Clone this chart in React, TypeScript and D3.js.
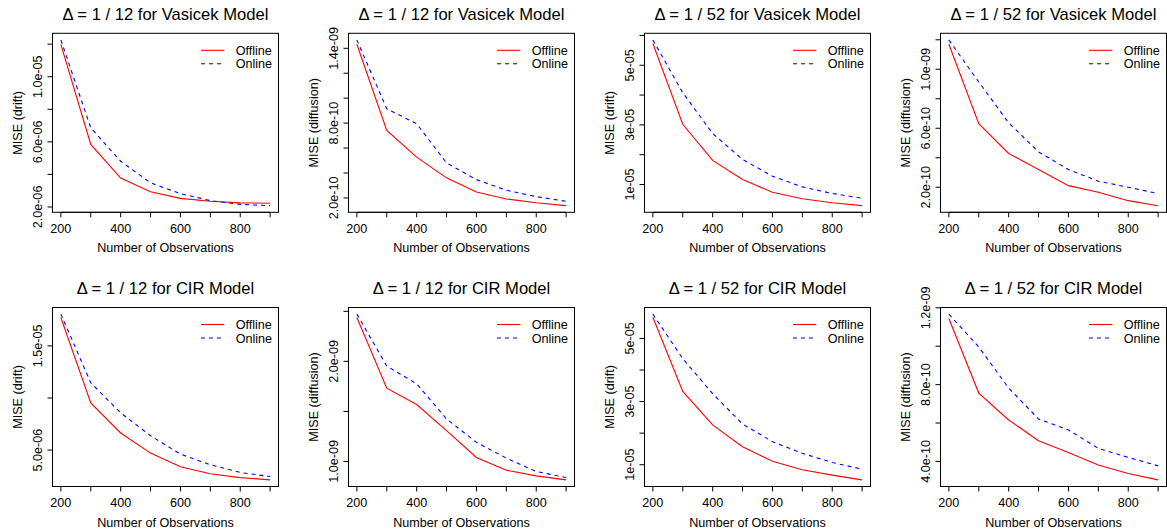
import React from "react";
import * as d3 from "d3";

// ---------- data ----------
const observations = [200, 300, 400, 500, 600, 700, 800, 900];
const xTicks = [200, 300, 400, 500, 600, 700, 800, 900];
const xTickLabels = ["200", "", "400", "", "600", "", "800", ""];

const titles = [
  "Δ = 1 / 12 for Vasicek Model",
  "Δ = 1 / 12 for Vasicek Model",
  "Δ = 1 / 52 for Vasicek Model",
  "Δ = 1 / 52 for Vasicek Model",
  "Δ = 1 / 12 for CIR Model",
  "Δ = 1 / 12 for CIR Model",
  "Δ = 1 / 52 for CIR Model",
  "Δ = 1 / 52 for CIR Model",
];
const yTitles = [
  "MISE (drift)", "MISE (diffusion)", "MISE (drift)", "MISE (diffusion)",
  "MISE (drift)", "MISE (diffusion)", "MISE (drift)", "MISE (diffusion)",
];
const legendLabels = ["Offline", "Online"];

// Vasicek, Δ = 1/12
const vas12DriftOffline = [11.99e-6, 5.84e-6, 3.78e-6, 2.94e-6, 2.53e-6, 2.35e-6, 2.25e-6, 2.23e-6];
const vas12DriftOnline = [12.26e-6, 6.86e-6, 4.81e-6, 3.48e-6, 2.82e-6, 2.39e-6, 2.16e-6, 2.08e-6];
const vas12DiffOffline = [14.32e-10, 7.41e-10, 5.27e-10, 3.61e-10, 2.48e-10, 1.92e-10, 1.62e-10, 1.38e-10];
const vas12DiffOnline = [14.67e-10, 9.15e-10, 7.95e-10, 4.81e-10, 3.47e-10, 2.62e-10, 2.11e-10, 1.73e-10];
// Vasicek, Δ = 1/52
const vas52DriftOffline = [5.73e-5, 3.02e-5, 1.81e-5, 1.17e-5, 0.74e-5, 0.52e-5, 0.39e-5, 0.29e-5];
const vas52DriftOnline = [5.85e-5, 4.08e-5, 2.71e-5, 1.84e-5, 1.28e-5, 0.92e-5, 0.7e-5, 0.54e-5];
const vas52DiffOffline = [11.7e-10, 6.31e-10, 4.29e-10, 3.2e-10, 2.11e-10, 1.66e-10, 1.09e-10, 0.75e-10];
const vas52DiffOnline = [11.99e-10, 9.14e-10, 6.37e-10, 4.4e-10, 3.2e-10, 2.41e-10, 2.0e-10, 1.57e-10];
// CIR, Δ = 1/12
const cir12DriftOffline = [17.73e-6, 9.53e-6, 6.64e-6, 4.71e-6, 3.39e-6, 2.72e-6, 2.36e-6, 2.14e-6];
const cir12DriftOnline = [18.05e-6, 11.46e-6, 8.57e-6, 6.38e-6, 4.61e-6, 3.59e-6, 2.85e-6, 2.46e-6];
const cir12DiffOffline = [24.38e-10, 17.32e-10, 15.69e-10, 13.08e-10, 10.4e-10, 9.13e-10, 8.56e-10, 8.16e-10];
const cir12DiffOnline = [24.72e-10, 19.53e-10, 17.76e-10, 14.25e-10, 11.91e-10, 10.33e-10, 9.0e-10, 8.39e-10];
// CIR, Δ = 1/52
const cir52DriftOffline = [5.67e-5, 3.32e-5, 2.26e-5, 1.57e-5, 1.11e-5, 0.84e-5, 0.67e-5, 0.52e-5];
const cir52DriftOnline = [5.77e-5, 4.36e-5, 3.25e-5, 2.29e-5, 1.73e-5, 1.36e-5, 1.07e-5, 0.86e-5];
const cir52DiffOffline = [11.44e-10, 7.56e-10, 6.16e-10, 5.08e-10, 4.47e-10, 3.81e-10, 3.37e-10, 3.04e-10];
const cir52DiffOnline = [11.67e-10, 9.96e-10, 7.82e-10, 6.21e-10, 5.64e-10, 4.68e-10, 4.21e-10, 3.77e-10];

// y-axis ticks and labels
const yTicks1 = [2e-6, 4e-6, 6e-6, 8e-6, 1e-5, 1.2e-5];
const yLabels1 = ["2.0e-06", "", "6.0e-06", "", "1.0e-05", ""];
const yTicks2 = [2e-10, 4e-10, 6e-10, 8e-10, 1e-9, 1.2e-9, 1.4e-9];
const yLabels2 = ["2.0e-10", "", "", "8.0e-10", "", "", "1.4e-09"];
const yTicks3 = [1e-5, 2e-5, 3e-5, 4e-5, 5e-5, 6e-5];
const yLabels3 = ["1e-05", "", "3e-05", "", "5e-05", ""];
const yTicks4 = [2e-10, 4e-10, 6e-10, 8e-10, 1e-9, 1.2e-9];
const yLabels4 = ["2.0e-10", "", "6.0e-10", "", "1.0e-09", ""];
const yTicks5 = [5e-6, 1e-5, 1.5e-5];
const yLabels5 = ["5.0e-06", "", "1.5e-05"];
const yTicks6 = [1e-9, 1.5e-9, 2e-9, 2.5e-9];
const yLabels6 = ["1.0e-09", "", "2.0e-09", ""];
const yTicks7 = [1e-5, 2e-5, 3e-5, 4e-5, 5e-5];
const yLabels7 = ["1e-05", "", "3e-05", "", "5e-05"];
const yTicks8 = [4e-10, 6e-10, 8e-10, 1e-9, 1.2e-9];
const yLabels8 = ["4.0e-10", "", "8.0e-10", "", "1.2e-09"];

const offlineSeries = [vas12DriftOffline, vas12DiffOffline, vas52DriftOffline, vas52DiffOffline,
  cir12DriftOffline, cir12DiffOffline, cir52DriftOffline, cir52DiffOffline];
const onlineSeries = [vas12DriftOnline, vas12DiffOnline, vas52DriftOnline, vas52DiffOnline,
  cir12DriftOnline, cir12DiffOnline, cir52DriftOnline, cir52DiffOnline];
const yTickSets = [yTicks1, yTicks2, yTicks3, yTicks4, yTicks5, yTicks6, yTicks7, yTicks8];
const yLabelSets = [yLabels1, yLabels2, yLabels3, yLabels4, yLabels5, yLabels6, yLabels7, yLabels8];

// ---------- layout ----------
const W = 1167;
const H = 532;
const FONT = "'Liberation Sans', Arial, Helvetica, sans-serif";
const BOX_W = 226;
const BOX_H = 179;
const COL_STEP = 296;
const ROW_STEP = 274.2;
const LEFT0 = 52.5;
const TOP0 = 33.3;
const AXIS_FS = 12.6;
const TITLE_FS = 16.6;
const TICK = 5;

function rExtend(lo: number, hi: number): [number, number] {
  const d = (hi - lo) * 0.04;
  return [lo - d, hi + d];
}

function Panel({ idx }: { idx: number }) {
  const col = idx % 4;
  const row = Math.floor(idx / 4);
  const left = LEFT0 + col * COL_STEP;
  const top = TOP0 + row * ROW_STEP;
  const right = left + BOX_W;
  const bottom = top + BOX_H;

  const off = offlineSeries[idx];
  const on = onlineSeries[idx];
  const all = off.concat(on);

  const x = d3.scaleLinear().domain(rExtend(d3.min(observations)!, d3.max(observations)!)).range([left, right]);
  const y = d3.scaleLinear().domain(rExtend(d3.min(all)!, d3.max(all)!)).range([bottom, top]);

  const line = d3
    .line<number>()
    .x((_, i) => x(observations[i]))
    .y((v) => y(v));

  const yt = yTickSets[idx];
  const yl = yLabelSets[idx];
  const cx = (left + right) / 2;
  const cy = (top + bottom) / 2;

  return (
    <g>
      <text x={cx} y={top - 13.3} fontSize={TITLE_FS} textAnchor="middle" fill="#000">
        {titles[idx]}
      </text>
      <rect x={left} y={top} width={BOX_W} height={BOX_H} fill="none" stroke="#000" strokeWidth={1} />
      {/* x axis */}
      <line x1={x(xTicks[0])} x2={x(xTicks[xTicks.length - 1])} y1={bottom} y2={bottom} stroke="#000" />
      {xTicks.map((t, i) => (
        <g key={"x" + i}>
          <line x1={x(t)} x2={x(t)} y1={bottom} y2={bottom + TICK} stroke="#000" />
          {xTickLabels[i] && (
            <text x={x(t)} y={bottom + 20.5} fontSize={AXIS_FS} textAnchor="middle" fill="#000">
              {xTickLabels[i]}
            </text>
          )}
        </g>
      ))}
      <text x={cx} y={bottom + 40} fontSize={AXIS_FS} textAnchor="middle" fill="#000">
        Number of Observations
      </text>
      {/* y axis */}
      <line x1={left} x2={left} y1={y(yt[0])} y2={y(yt[yt.length - 1])} stroke="#000" />
      {yt.map((t, i) => (
        <g key={"y" + i}>
          <line x1={left - TICK} x2={left} y1={y(t)} y2={y(t)} stroke="#000" />
          {yl[i] && (
            <text
              transform={`translate(${left - 10.5},${y(t)}) rotate(-90)`}
              fontSize={AXIS_FS}
              textAnchor="middle"
              fill="#000"
            >
              {yl[i]}
            </text>
          )}
        </g>
      ))}
      <text
        transform={`translate(${left - 31},${cy}) rotate(-90)`}
        fontSize={AXIS_FS}
        textAnchor="middle"
        fill="#000"
      >
        {yTitles[idx]}
      </text>
      {/* series */}
      <path d={line(off) || ""} fill="none" stroke="#FF0000" strokeWidth={1.1} />
      <path d={line(on) || ""} fill="none" stroke="#0000FF" strokeWidth={1.1} strokeDasharray="4,4" />
      {/* legend */}
      <line x1={right - 77.5} x2={right - 54.2} y1={top + 17} y2={top + 17} stroke="#FF0000" strokeWidth={1.1} />
      <line x1={right - 77.5} x2={right - 54.2} y1={top + 30.5} y2={top + 30.5} stroke="#0000FF" strokeWidth={1.1} strokeDasharray="4,4" />
      <text x={right - 42.8} y={top + 17 + 4.5} fontSize={AXIS_FS} fill="#000">
        {legendLabels[0]}
      </text>
      <text x={right - 42.8} y={top + 30.5 + 4.5} fontSize={AXIS_FS} fill="#000">
        {legendLabels[1]}
      </text>
    </g>
  );
}

export default function App() {
  return (
    <svg
      width={W}
      height={H}
      viewBox={`0 0 ${W} ${H}`}
      style={{ position: "absolute", left: 0, top: 0, background: "#fff" }}
      fontFamily={FONT}
    >
      <rect x={0} y={0} width={W} height={H} fill="#fff" />
      {titles.map((_, i) => (
        <Panel key={i} idx={i} />
      ))}
    </svg>
  );
}
